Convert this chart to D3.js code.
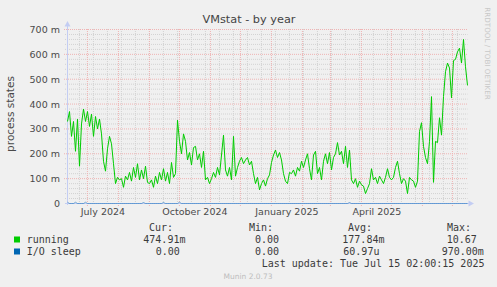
<!DOCTYPE html>
<html>
<head>
<meta charset="utf-8">
<script src="https://cdn.jsdelivr.net/npm/d3@7"></script>
<style>
  body { margin: 0; background: #f0f0f0; }
  svg { display: block; }
  .mono { font-family: "DejaVu Sans Mono", monospace; font-size: 10px; fill: #3a3a3a; white-space: pre; }
</style>
</head>
<body>
<svg id="chart" width="497" height="287"></svg>
<script>

var title = "VMstat - by year";
var yTitle = "process states";

// time window of the graph (UTC), one value every 2 days
var startDate = Date.UTC(2024, 5, 11, 2);
var endDate = Date.UTC(2025, 6, 16, 2);
var stepDays = 2;

// running processes, in milli units (m)
var running = [
  330, 370, 270, 330, 210, 340, 150, 320, 380, 330, 370, 310, 360, 270, 350, 300, 340, 280, 170, 130,
  220, 270, 240, 160,  80, 105,  95, 100,  65, 110,  95, 125,  90, 145, 105, 160,  95, 135, 100, 150,
   85,  80,  95,  65, 110,  80, 125,  95, 140,  90, 125,  80, 165, 105, 120, 335, 250, 200, 280, 250,
  175, 205, 155, 225, 230, 175, 200, 145, 210,  95, 105,  80, 100, 125, 105, 145, 115, 195, 275, 135,
  110, 145,  95, 270, 110, 145, 170, 185, 160, 175, 185, 155, 170, 120,  80, 105,  55,  80,  95,  70,
  100, 115, 165, 195, 215, 185, 205, 175, 120,  90,  80, 125, 120, 135, 110, 145, 130, 170, 145, 175,
  200, 140,  95, 195, 210, 120, 145,  95, 170, 200, 160, 205, 135, 185, 200, 245, 195, 210, 160, 230,
  145, 215,  95,  80, 100,  65,  90,  75,  70,  40,  60,  80, 140,  95, 105,  80, 110,  95,  80, 105,
  140, 105,  95, 105, 145, 170, 120,  80, 100,  90,  40, 105,  95,  90,  65,  90, 290, 325, 230, 185,
  160, 250, 430,  85, 250, 245, 345, 275, 430, 530, 565, 545, 425, 575, 580, 610, 625, 565, 660, 550,
  475
];

// I/O sleep, in milli units (m)
var ioSleep = [
  5, 0, 0, 0, 5, 0, 0, 0, 0, 5, 0, 0, 0, 0, 0, 0, 0, 0, 0, 0,
  0, 0, 0, 0, 0, 0, 0, 0, 0, 0, 0, 0, 0, 0, 0, 0, 0, 0, 4, 0,
  0, 0, 0, 0, 0, 0, 0, 0, 4, 0, 0, 0, 0, 0, 0, 0, 5, 0, 0, 0,
  0, 0, 0, 0, 0, 0, 0, 0, 0, 0, 0, 0, 0, 0, 0, 0, 0, 0, 0, 0,
  0, 0, 0, 0, 0, 0, 0, 0, 0, 0, 0, 0, 0, 0, 0, 0, 0, 0, 0, 0,
  0, 0, 0, 0, 0, 0, 0, 0, 0, 0, 0, 0, 0, 0, 0, 0, 0, 0, 0, 0,
  0, 0, 0, 0, 0, 0, 0, 0, 0, 0, 0, 0, 0, 0, 0, 0, 0, 0, 0, 0,
  0, 4, 0, 0, 0, 0, 0, 0, 0, 0, 0, 0, 0, 0, 0, 0, 0, 0, 0, 0,
  0, 0, 0, 0, 0, 0, 0, 0, 0, 0, 0, 0, 0, 0, 0, 0, 0, 0, 0, 0,
  0, 0, 0, 0, 0, 0, 0, 0, 0, 0, 0, 0, 0, 0, 0, 0, 0, 0, 0, 0,
  0
];

var yTicks = [0, 100, 200, 300, 400, 500, 600, 700];
var xLabelDates = [Date.UTC(2024, 6, 1), Date.UTC(2024, 9, 1), Date.UTC(2025, 0, 1), Date.UTC(2025, 3, 1)];
var xLabels = ["July 2024", "October 2024", "January 2025", "April 2025"];

var legendNames = ["running", "I/O sleep"];
var seriesColors = ["#00cc00", "#0066b3"];
var legendHeaders = ["Cur:", "Min:", "Avg:", "Max:"];
var curVals = ["474.91m", "0.00"];
var minVals = ["0.00", "0.00"];
var avgVals = ["177.84m", "60.97u"];
var maxVals = ["10.67", "970.00m"];
var lastUpdate = "Last update: Tue Jul 15 02:00:15 2025";
var footer = "Munin 2.0.73";
var watermark = "RRDTOOL / TOBI OETIKER";

var svg = d3.select("#chart");
var DAY = 86400000;

var x = d3.scaleUtc().domain([startDate, endDate]).range([67.5, 467.5]);
var y = d3.scaleLinear().domain([0, 700]).range([203.5, 29.5]);

var dates = running.map(function(d, i) { return startDate + i * stepDays * DAY; });

var gridCol = "#d2d2d2";
var mgridCol = "#efb3b3";
var axisCol = "#c3cdf3";

/* grid lines */
var grid = svg.append("g");
// minor horizontal every 20 m
grid.selectAll(".hmin").data(d3.range(20, 701, 20).filter(function(v){ return v % 100 != 0; }))
  .enter().append("line")
  .attr("x1", 65).attr("x2", 467.5)
  .attr("y1", function(d){ return y(d); }).attr("y2", function(d){ return y(d); })
  .attr("stroke", gridCol).attr("stroke-dasharray", "1,1");

// minor vertical: every two weeks on sundays
var minorDates = d3.utcSunday.every(1).range(new Date(startDate), new Date(endDate))
  .filter(function(d){ return Math.round((d - Date.UTC(2024, 5, 23)) / (7 * DAY)) % 2 == 0; });
grid.selectAll(".vmin").data(minorDates).enter().append("line")
  .attr("x1", function(d){ return x(d); }).attr("x2", function(d){ return x(d); })
  .attr("y1", 29).attr("y2", 205)
  .attr("stroke", gridCol).attr("stroke-dasharray", "1,1");

// major horizontal every 100 m
grid.selectAll(".hmaj").data(yTicks.filter(function(v){ return v > 0; }))
  .enter().append("line")
  .attr("x1", 64).attr("x2", 467.5)
  .attr("y1", function(d){ return y(d); }).attr("y2", function(d){ return y(d); })
  .attr("stroke", mgridCol).attr("stroke-dasharray", "1,1");

// major vertical every month
var monthDates = d3.utcMonth.range(new Date(startDate), new Date(endDate));
grid.selectAll(".vmaj").data(monthDates).enter().append("line")
  .attr("x1", function(d){ return x(d); }).attr("x2", function(d){ return x(d); })
  .attr("y1", 29).attr("y2", 207)
  .attr("stroke", mgridCol).attr("stroke-dasharray", "1,1");

/* axes */
var yAxis = svg.append("g")
  .attr("transform", "translate(67,0)")
  .call(d3.axisLeft(y).tickValues(yTicks)
    .tickFormat(function(d){ return d === 0 ? "0" : d + " m"; })
    .tickSize(0).tickPadding(7));
yAxis.select(".domain").remove();
yAxis.selectAll("text")
  .attr("font-family", "DejaVu Sans, sans-serif").attr("font-size", "9.5px").attr("fill", "#4a4a4a");

var xAxis = svg.append("g")
  .attr("transform", "translate(0,203)")
  .call(d3.axisBottom(x).tickValues(xLabelDates.map(function(d){ return d + 15 * DAY; }))
    .tickFormat(function(d, i){ return xLabels[i]; })
    .tickSize(0).tickPadding(5));
xAxis.select(".domain").remove();
xAxis.selectAll("text")
  .attr("font-family", "DejaVu Sans, sans-serif").attr("font-size", "9.5px").attr("fill", "#4a4a4a");

// axis lines + arrows
svg.append("line").attr("x1", 67.5).attr("x2", 67.5).attr("y1", 205).attr("y2", 24)
  .attr("stroke", axisCol);
svg.append("line").attr("x1", 65).attr("x2", 470).attr("y1", 203.5).attr("y2", 203.5)
  .attr("stroke", axisCol);
svg.append("path").attr("d", "M64.5,26.5 L70.5,26.5 L67.5,21 Z").attr("fill", axisCol);
svg.append("path").attr("d", "M468.5,200.5 L468.5,206.5 L474,203.5 Z").attr("fill", axisCol);

/* series */
var line = d3.line()
  .x(function(d, i){ return x(dates[i]); })
  .y(function(d){ return y(d); });

svg.append("path").datum(ioSleep)
  .attr("d", line).attr("fill", "none")
  .attr("stroke", seriesColors[1]).attr("stroke-width", 1).attr("stroke-opacity", 0.5);

svg.append("path").datum(running)
  .attr("d", line).attr("fill", "none")
  .attr("stroke", seriesColors[0]).attr("stroke-width", 1);

/* titles */
svg.append("text").attr("x", 249).attr("y", 22.5).attr("text-anchor", "middle")
  .attr("font-family", "DejaVu Sans, sans-serif").attr("font-size", "11.3px").attr("fill", "#444")
  .text(title);

svg.append("text").attr("transform", "translate(13.5,114) rotate(-90)").attr("text-anchor", "middle")
  .attr("font-family", "DejaVu Sans, sans-serif").attr("font-size", "10.5px").attr("fill", "#4a4a4a")
  .text(yTitle);

svg.append("text").attr("transform", "translate(484.5,53.5) rotate(90)").attr("text-anchor", "middle")
  .attr("font-family", "DejaVu Sans, sans-serif").attr("font-size", "7.2px").attr("fill", "#c8c8c8")
  .text(watermark);

/* legend */
var headX = [149, 249, 348, 447];
svg.selectAll(".head").data(legendHeaders).enter().append("text")
  .attr("class", "mono").attr("x", function(d, i){ return headX[i]; }).attr("y", 231)
  .text(function(d){ return d; });

var rowY = [243, 255];
var colStarts = [[143.3, 255, 342.3, 446.7], [155.7, 255, 343.3, 441.7]];
legendNames.forEach(function(name, r) {
  svg.append("rect").attr("x", 14).attr("y", rowY[r] - 6.5).attr("width", 6).attr("height", 6)
    .attr("fill", seriesColors[r]);
  svg.append("text").attr("class", "mono").attr("x", 26.7).attr("y", rowY[r]).text(name);
  var vals = [curVals[r], minVals[r], avgVals[r], maxVals[r]];
  vals.forEach(function(v, c) {
    svg.append("text").attr("class", "mono").attr("x", colStarts[r][c]).attr("y", rowY[r]).text(v);
  });
});

svg.append("text").attr("class", "mono").attr("x", 261.7).attr("y", 267).text(lastUpdate);

svg.append("text").attr("x", 248).attr("y", 279).attr("text-anchor", "middle")
  .attr("font-family", "DejaVu Sans, sans-serif").attr("font-size", "7.5px").attr("fill", "#bdbdbd")
  .text(footer);

</script>
</body>
</html>
